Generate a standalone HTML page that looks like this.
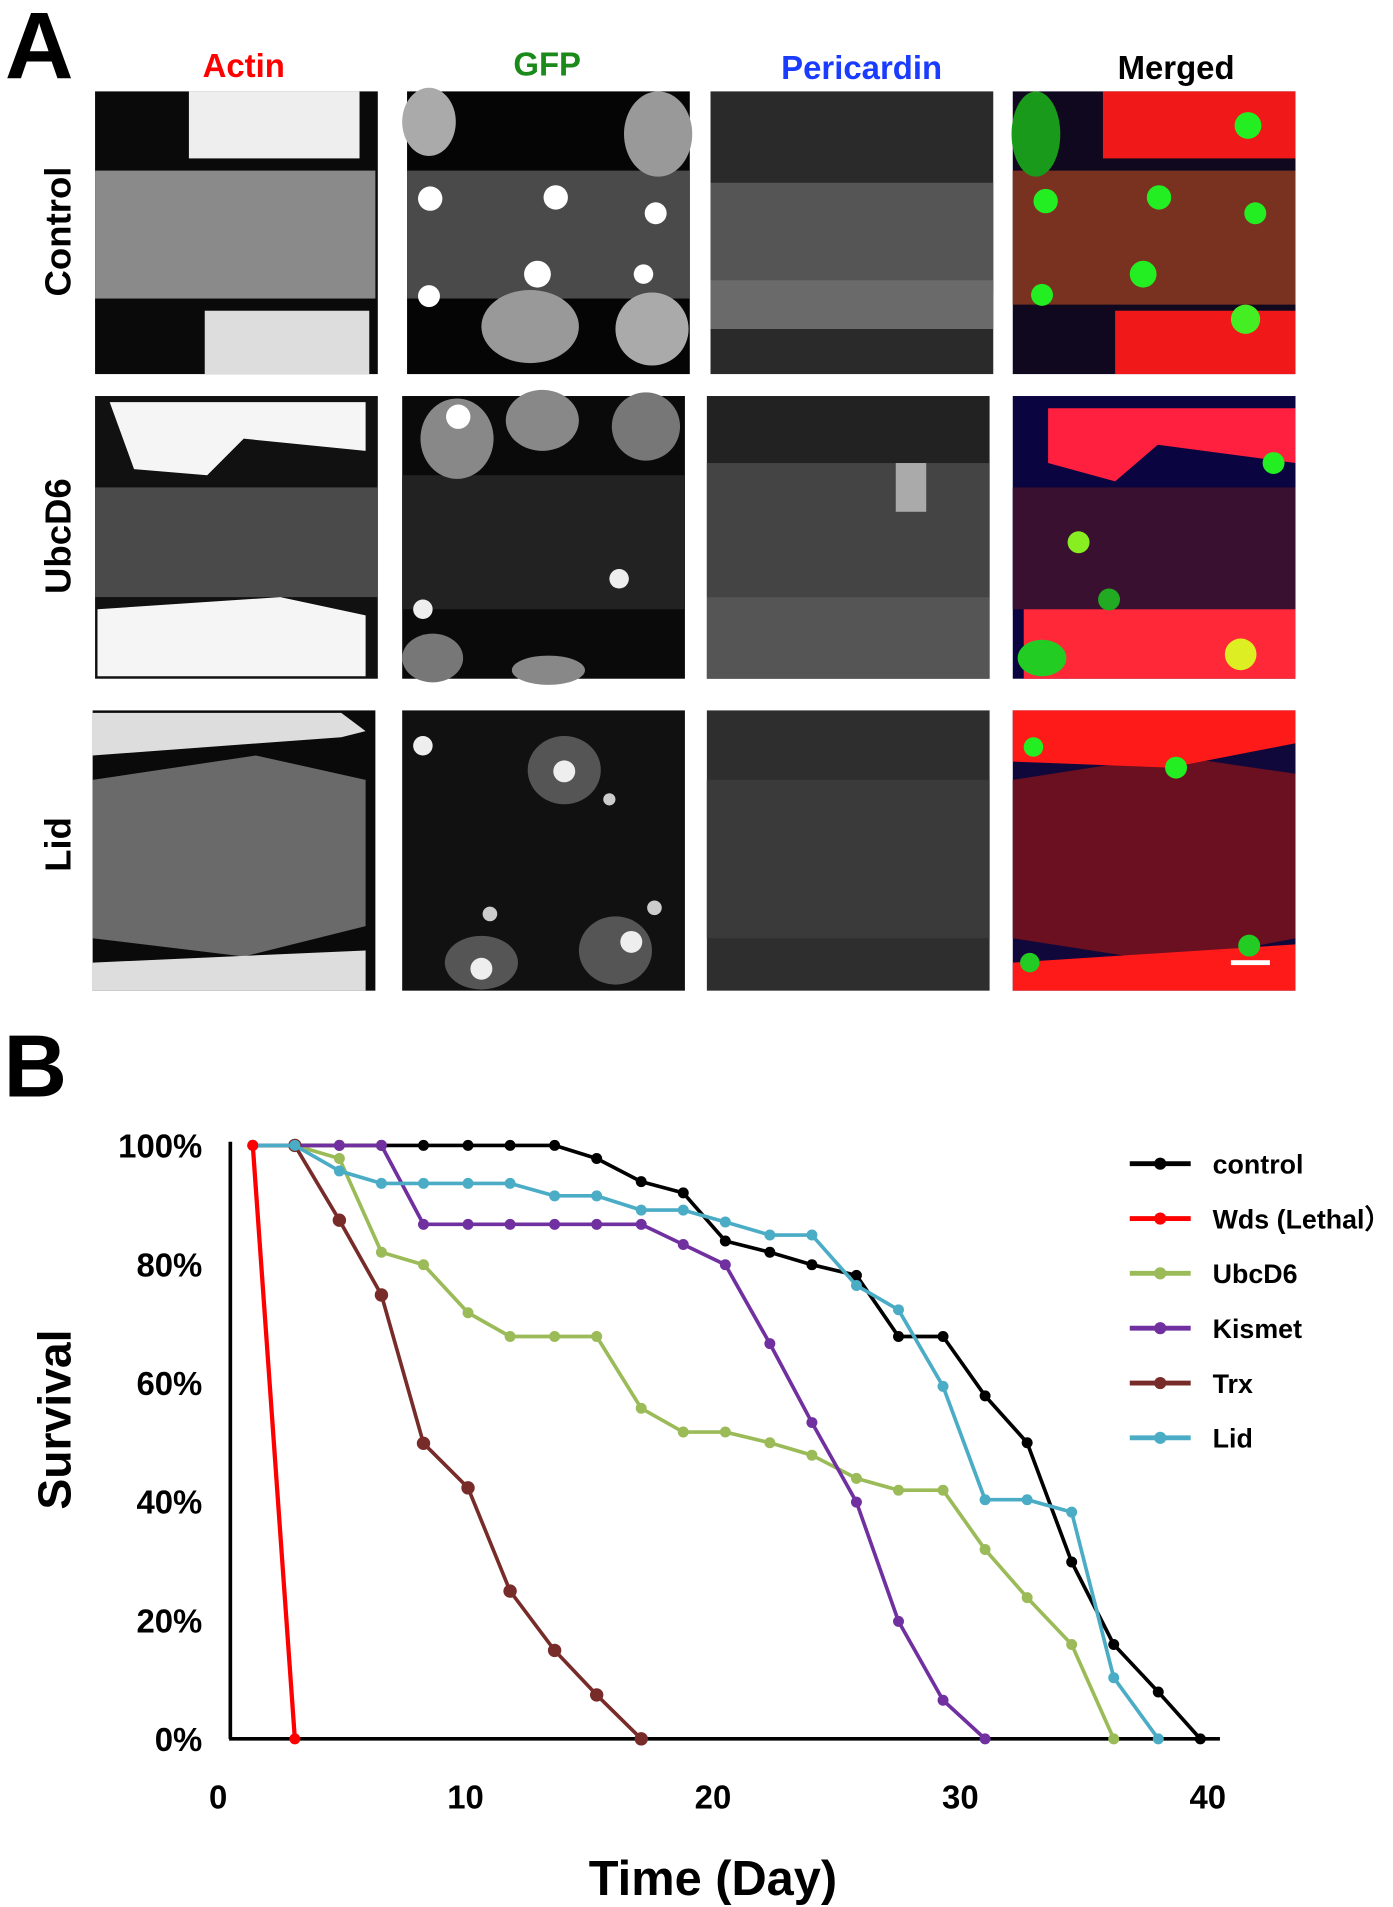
<!DOCTYPE html>
<html><head><meta charset="utf-8"><style>
html,body{margin:0;padding:0;background:#fff}
svg{display:block}
text{font-family:"Liberation Sans",Arial,sans-serif}
</style></head><body>
<svg id="fig" width="1393" height="1907" viewBox="0 0 1143 1565" preserveAspectRatio="none" xmlns="http://www.w3.org/2000/svg">
<rect width="1143" height="1565" fill="#fff"/>
<text x="4" y="64" font-size="78" font-weight="bold">A</text>
<text x="200" y="63" font-size="27" font-weight="bold" fill="#f00" text-anchor="middle">Actin</text>
<text x="449" y="62" font-size="27" font-weight="bold" fill="#1a8a1a" text-anchor="middle">GFP</text>
<text x="707" y="65" font-size="27" font-weight="bold" fill="#1a3cff" text-anchor="middle">Pericardin</text>
<text x="965" y="65" font-size="27" font-weight="bold" fill="#000" text-anchor="middle">Merged</text>
<text transform="translate(58,190) rotate(-90)" font-size="30" font-weight="bold" text-anchor="middle">Control</text>
<text transform="translate(58,440) rotate(-90)" font-size="30" font-weight="bold" text-anchor="middle">UbcD6</text>
<text transform="translate(58,693) rotate(-90)" font-size="30" font-weight="bold" text-anchor="middle">Lid</text>

<!-- Row 1 -->
<g>
<rect x="78" y="75" width="232" height="232" fill="#0a0a0a"/>
<rect x="78" y="140" width="230" height="105" fill="#8a8a8a"/>
<rect x="155" y="75" width="140" height="55" fill="#eee"/>
<rect x="168" y="255" width="135" height="52" fill="#ddd"/>
</g>
<g>
<rect x="334" y="75" width="232" height="232" fill="#050505"/>
<rect x="334" y="140" width="232" height="105" fill="#4a4a4a"/>
<ellipse cx="352" cy="100" rx="22" ry="28" fill="#aaa"/><ellipse cx="540" cy="110" rx="28" ry="35" fill="#999"/>
<ellipse cx="435" cy="268" rx="40" ry="30" fill="#999"/><ellipse cx="535" cy="270" rx="30" ry="30" fill="#aaa"/>
<circle cx="353" cy="163" r="10" fill="#fff"/><circle cx="456" cy="162" r="10" fill="#fff"/><circle cx="538" cy="175" r="9" fill="#fff"/>
<circle cx="441" cy="225" r="11" fill="#fff"/><circle cx="352" cy="243" r="9" fill="#fff"/><circle cx="528" cy="225" r="8" fill="#fff"/>
</g>
<g>
<rect x="583" y="75" width="232" height="232" fill="#2a2a2a"/>
<rect x="583" y="150" width="232" height="90" fill="#555"/>
<rect x="583" y="230" width="232" height="40" fill="#6a6a6a"/>
</g>
<g>
<rect x="831" y="75" width="232" height="232" fill="#10081e"/>
<rect x="831" y="140" width="232" height="110" fill="#7a3220"/>
<rect x="905" y="75" width="158" height="55" fill="#f01818"/>
<rect x="915" y="255" width="148" height="52" fill="#f01818"/>
<ellipse cx="850" cy="110" rx="20" ry="35" fill="#1a9a1a"/>
<circle cx="858" cy="165" r="10" fill="#22ee22"/><circle cx="951" cy="162" r="10" fill="#22ee22"/><circle cx="1030" cy="175" r="9" fill="#22ee22"/>
<circle cx="938" cy="225" r="11" fill="#22ee22"/><circle cx="855" cy="242" r="9" fill="#22ee22"/><circle cx="1022" cy="262" r="12" fill="#44ee22"/><circle cx="1024" cy="103" r="11" fill="#22ee22"/>
</g>
<!-- Row 2 -->
<g>
<rect x="78" y="325" width="232" height="232" fill="#111"/>
<rect x="78" y="400" width="232" height="90" fill="#4a4a4a"/>
<polygon points="90,330 300,330 300,370 200,360 170,390 110,385" fill="#f5f5f5"/>
<polygon points="80,500 230,490 300,505 300,555 80,555" fill="#f5f5f5"/>
</g>
<g>
<rect x="330" y="325" width="232" height="232" fill="#0a0a0a"/>
<rect x="330" y="390" width="232" height="110" fill="#222"/>
<ellipse cx="375" cy="360" rx="30" ry="33" fill="#888"/><ellipse cx="445" cy="345" rx="30" ry="25" fill="#888"/><ellipse cx="530" cy="350" rx="28" ry="28" fill="#777"/>
<ellipse cx="355" cy="540" rx="25" ry="20" fill="#777"/><ellipse cx="450" cy="550" rx="30" ry="12" fill="#888"/>
<circle cx="376" cy="342" r="10" fill="#fff"/><circle cx="508" cy="475" r="8" fill="#eee"/><circle cx="347" cy="500" r="8" fill="#eee"/>
</g>
<g>
<rect x="580" y="325" width="232" height="232" fill="#222"/>
<rect x="580" y="380" width="232" height="110" fill="#444"/>
<rect x="580" y="490" width="232" height="67" fill="#555"/>
<rect x="735" y="380" width="25" height="40" fill="#aaa"/>
</g>
<g>
<rect x="831" y="325" width="232" height="232" fill="#0a0440"/>
<rect x="831" y="400" width="232" height="100" fill="#3a1030"/>
<polygon points="860,335 1063,335 1063,380 950,365 915,395 860,380" fill="#ff2040"/>
<polygon points="840,500 1063,500 1063,557 840,557" fill="#ff2838"/>
<circle cx="885" cy="445" r="9" fill="#88ee22"/><circle cx="1045" cy="380" r="9" fill="#22ee22"/><circle cx="1018" cy="537" r="13" fill="#ddee22"/><circle cx="910" cy="492" r="9" fill="#22aa22"/>
<ellipse cx="855" cy="540" rx="20" ry="15" fill="#22cc22"/>
</g>
<!-- Row 3 -->
<g>
<rect x="76" y="583" width="232" height="230" fill="#0a0a0a"/>
<polygon points="76,640 210,620 300,640 300,760 200,785 76,770" fill="#6a6a6a"/>
<polygon points="76,585 280,585 300,600 280,605 76,620" fill="#ddd"/>
<polygon points="76,790 300,780 300,813 76,813" fill="#ddd"/>
</g>
<g>
<rect x="330" y="583" width="232" height="230" fill="#111"/>
<ellipse cx="463" cy="632" rx="30" ry="28" fill="#555"/><ellipse cx="395" cy="790" rx="30" ry="22" fill="#555"/><ellipse cx="505" cy="780" rx="30" ry="28" fill="#555"/>
<circle cx="347" cy="612" r="8" fill="#eee"/><circle cx="463" cy="633" r="9" fill="#eee"/><circle cx="395" cy="795" r="9" fill="#eee"/><circle cx="518" cy="773" r="9" fill="#eee"/>
<circle cx="500" cy="656" r="5" fill="#ccc"/><circle cx="402" cy="750" r="6" fill="#ccc"/><circle cx="537" cy="745" r="6" fill="#ccc"/>
</g>
<g>
<rect x="580" y="583" width="232" height="230" fill="#2e2e2e"/>
<rect x="580" y="640" width="232" height="130" fill="#3a3a3a"/>
</g>
<g>
<rect x="831" y="583" width="232" height="230" fill="#10083a"/>
<polygon points="831,640 960,620 1063,635 1063,770 960,790 831,770" fill="#6a1020"/>
<polygon points="831,583 1063,583 1063,610 960,630 831,625" fill="#ff1a1a"/>
<polygon points="831,790 1063,775 1063,813 831,813" fill="#ff1a1a"/>
<circle cx="848" cy="613" r="8" fill="#22ee22"/><circle cx="965" cy="630" r="9" fill="#22ee22"/><circle cx="845" cy="790" r="8" fill="#22cc22"/><circle cx="1025" cy="776" r="9" fill="#22cc22"/>
<rect x="1010" y="788" width="32" height="4" fill="#fff"/>
</g>

<text x="3" y="900" font-size="72" font-weight="bold">B</text>
<g id="chart"></g>
</svg>
<script>
const days = [1.4,3.1,4.9,6.6,8.3,10.1,11.8,13.6,15.3,17.1,18.8,20.5,22.3,24.0,25.8,27.5,29.3,31.0,32.7,34.5,36.2,38.0,39.7];
const seriesNames = ["control","Wds (Lethal\uFF09","UbcD6","Kismet","Trx","Lid"];
const controlValues = [100,100,100,100,100,100,100,100,97.8,93.9,92.0,83.9,82.0,79.9,78.1,67.8,67.8,57.8,49.9,29.8,15.9,7.9,0];
const wdsValues = [100,0];
const ubcd6Values = [100,100,97.8,82.0,79.9,71.8,67.8,67.8,67.8,55.7,51.7,51.7,49.9,47.8,43.9,41.9,41.9,31.9,23.8,15.9,0];
const kismetValues = [100,100,100,100,86.7,86.7,86.7,86.7,86.7,86.7,83.3,79.9,66.6,53.3,39.9,19.8,6.5,0];
const trxValues = [null,100,87.4,74.8,49.8,42.3,24.9,14.9,7.4,0];
const lidValues = [100,100,95.7,93.6,93.6,93.6,93.6,91.5,91.5,89.1,89.1,87.1,84.9,84.9,76.4,72.3,59.4,40.3,40.3,38.2,10.3,0];
const xTicks = [0,10,20,30,40];
const yTicks = [0,20,40,60,80,100];
const yTickLabels = ["0%","20%","40%","60%","80%","100%"];

const NS="http://www.w3.org/2000/svg";
const g=document.getElementById('chart');
const X0=179, XPD=20.3, Y0=1427, YH=487;
const xs=d=>X0+d*XPD;
const ys=v=>Y0-v/100*YH;
function mk(t,a){const e=document.createElementNS(NS,t);for(const k in a)e.setAttribute(k,a[k]);g.appendChild(e);return e;}

const ya=mk('line',{x1:189,y1:ys(100)-3,x2:189,y2:Y0,stroke:'#000','stroke-width':3});


const xa=mk('line',{x1:188,y1:Y0,x2:1001,y2:Y0,stroke:'#000','stroke-width':3});



yTicks.forEach((v,i)=>{
  const t=mk('text',{x:166,y:ys(v)+10,'font-size':27,'font-weight':'bold','text-anchor':'end'});
  t.textContent=yTickLabels[i];
  
  
});
xTicks.forEach(d=>{
  const t=mk('text',{x:xs(d),y:1484,'font-size':27,'font-weight':'bold','text-anchor':'middle'});
  t.textContent=String(d);
  
  
});
const yt=mk('text',{transform:'translate(58,1165) rotate(-90)','font-size':38,'font-weight':'bold','text-anchor':'middle'});
yt.textContent='Survival';


const xt=mk('text',{x:585,y:1555,'font-size':40,'font-weight':'bold','text-anchor':'middle'});
xt.textContent='Time (Day)';



const allSeries=[controlValues,wdsValues,ubcd6Values,kismetValues,trxValues,lidValues];
const colors=['#000','#ff0000','#9bbb59','#7030a0','#772c2a','#4bacc6'];
const radii=[4.5,4.5,4.5,4.5,5.5,4.5];
const drawOrder=[0,2,3,4,5,1];
drawOrder.forEach(si=>{
  const vals=allSeries[si];
  const pts=[];
  vals.forEach((v,i)=>{ if(v!==null) pts.push([xs(days[i]),ys(v)]); });
  const pl=mk('polyline',{points:pts.map(p=>p.join(',')).join(' '),fill:'none',stroke:colors[si],'stroke-width':si===1?3.5:3,'stroke-linejoin':'round'});
  
  
  pts.forEach(p=>{
    const c=mk('circle',{cx:p[0],cy:p[1],r:radii[si],fill:colors[si]});
    
    
  });
});

seriesNames.forEach((n,i)=>{
  const y=955+i*45;
  const l=mk('line',{x1:927,y1:y,x2:977,y2:y,stroke:colors[i],'stroke-width':4});
  
  
  const c=mk('circle',{cx:952,cy:y,r:5,fill:colors[i]});
  
  
  const t=mk('text',{x:995,y:y+8,'font-size':22,'font-weight':'bold'});
  t.textContent=n;
  
  
});
</script>
</body></html>
